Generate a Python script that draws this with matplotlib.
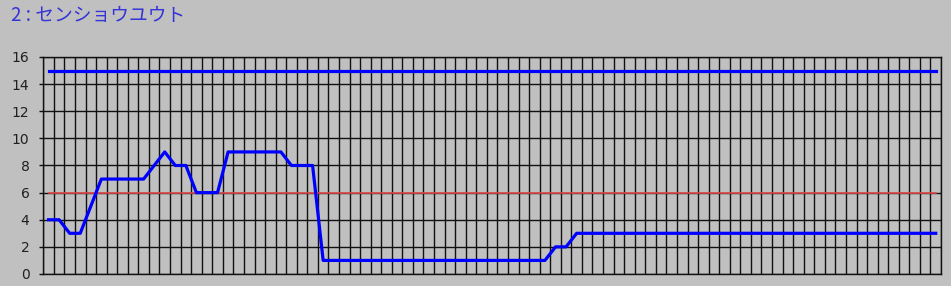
import matplotlib
matplotlib.use('Agg')
import matplotlib.pyplot as plt
import numpy as np

# values, one per column
title = "2 : センショウユウト"
series_values = [4, 4, 3, 3, 5, 7, 7, 7, 7, 7,
                 8, 9, 8, 8, 6, 6, 6, 9, 9, 9,
                 9, 9, 9, 8, 8, 8, 1, 1, 1, 1,
                 1, 1, 1, 1, 1, 1, 1, 1, 1, 1,
                 1, 1, 1, 1, 1, 1, 1, 1, 2, 2,
                 3, 3, 3, 3, 3, 3, 3, 3, 3, 3,
                 3, 3, 3, 3, 3, 3, 3, 3, 3, 3,
                 3, 3, 3, 3, 3, 3, 3, 3, 3, 3,
                 3, 3, 3, 3, 3]
upper_level = 15
lower_level = 6
y_ticks = [0, 2, 4, 6, 8, 10, 12, 14, 16]


def main():
    n = len(series_values)
    x = np.arange(n)

    plt.rcParams['font.family'] = ['DejaVu Sans']
    fig = plt.figure(figsize=(9.51, 2.86), dpi=100)
    fig.patch.set_facecolor('#c0c0c0')
    ax = fig.add_axes([0.0455, 0.042, 0.944, 0.7587])
    ax.set_facecolor('#c0c0c0')

    # grid: one vertical line per column boundary, horizontal at ticks
    for xb in np.arange(n + 1) - 0.5:
        ax.axvline(xb, color='#111111', linewidth=1.0, zorder=1)
    for yt in y_ticks:
        ax.axhline(yt, color='#111111', linewidth=1.0, zorder=1)

    ax.plot(x, [lower_level] * n, color='#e04848', linewidth=1.2, zorder=2)
    ax.plot(x, [upper_level] * n, color='#0000ff', linewidth=2.3, zorder=3)
    ax.plot(x, series_values, color='#0000ff', linewidth=2.3, zorder=3)

    ax.set_xlim(-0.5, n - 0.5)
    ax.set_ylim(0, 16)
    ax.set_yticks(y_ticks)
    ax.set_xticks([])
    ax.tick_params(axis='y', length=3, width=1.0, color='#111111',
                   pad=7, labelsize=10, labelcolor='#202020')
    for s in ax.spines.values():
        s.set_color('#111111')
        s.set_linewidth(1.0)

    fig.text(0.012, 1 - 16 / 286, title, color='#3434d8', fontsize=13.5,
             va='center', ha='left',
             family=['Noto Sans CJK JP', 'DejaVu Sans'])

    fig.savefig('out.png', dpi=100, facecolor=fig.get_facecolor())


if __name__ == "__main__":
    main()
